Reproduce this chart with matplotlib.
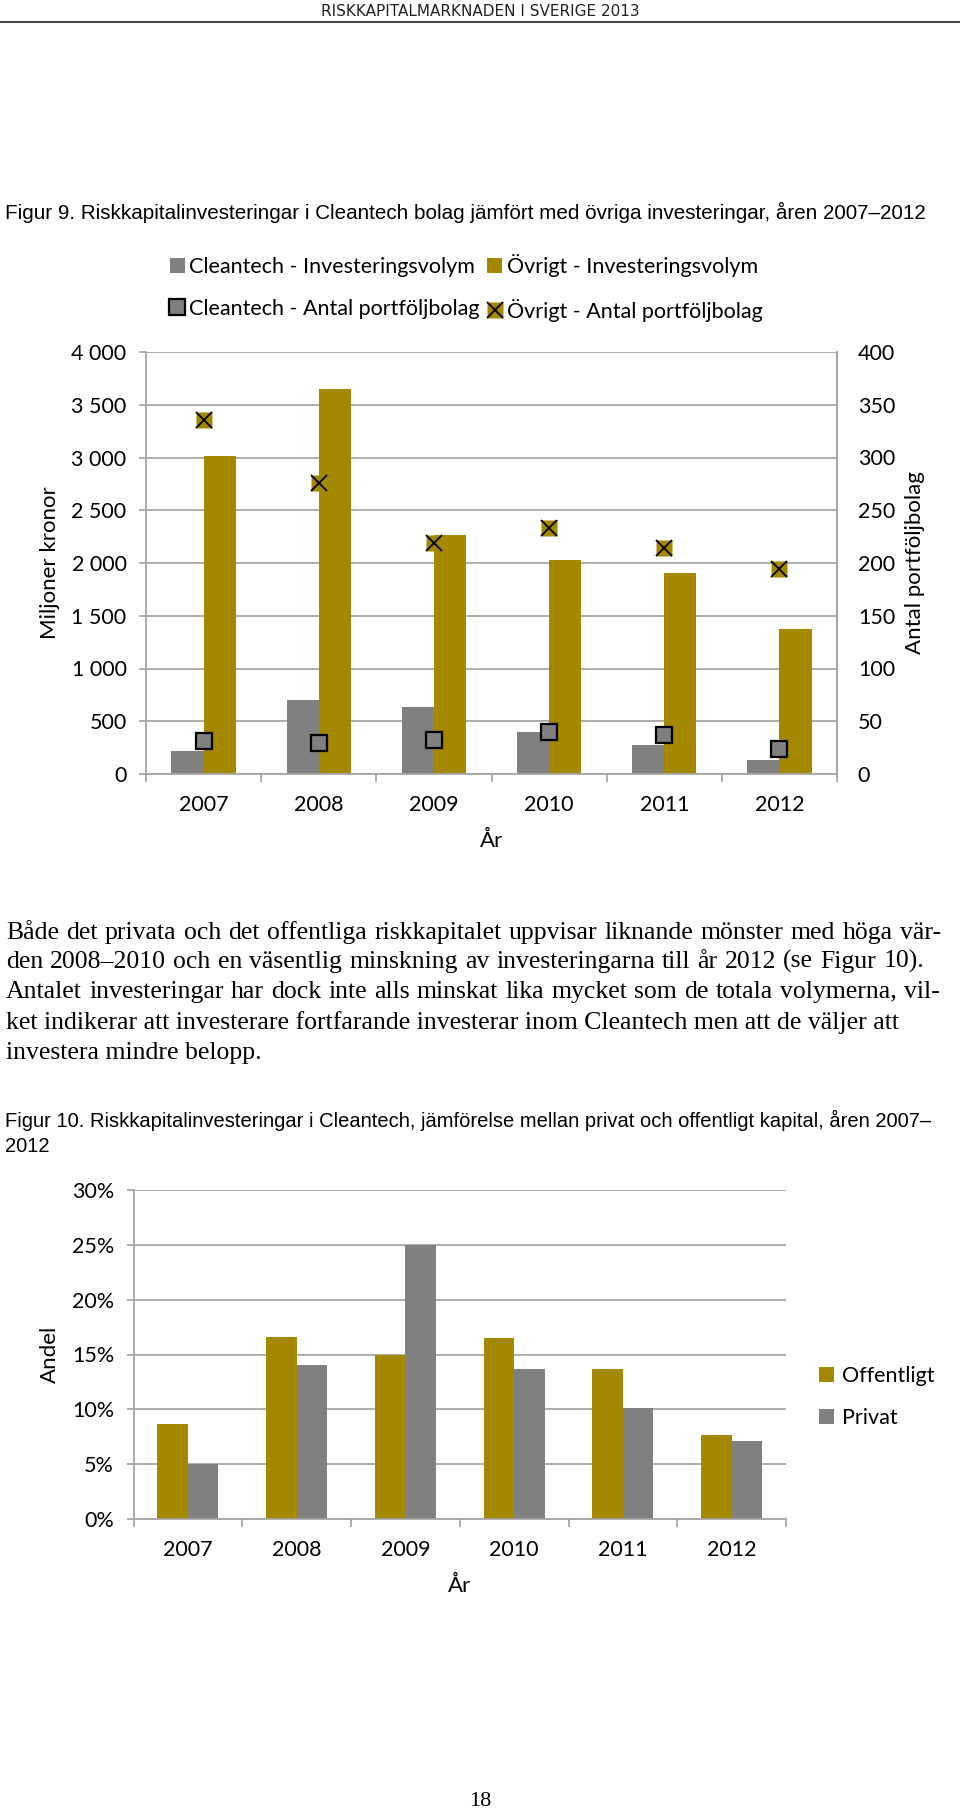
import numpy as np
import matplotlib
matplotlib.use('Agg')
import matplotlib.pyplot as plt
from matplotlib.lines import Line2D
from matplotlib.legend_handler import HandlerTuple
from matplotlib.ticker import FuncFormatter, FixedLocator

# data figur 9
years = ['2007', '2008', '2009', '2010', '2011', '2012']
clean_vol = [218, 703, 633, 396, 275, 133]          # Mkr
ovrigt_vol = [3016, 3652, 2263, 2032, 1905, 1373]   # Mkr
clean_cnt = [31, 29, 32, 40, 37, 24]                # antal bolag
ovrigt_cnt = [336, 276, 219, 233, 214, 194]

# data figur 10
offentligt = [8.7, 16.6, 15.0, 16.5, 13.7, 7.7]     # procent
privat = [5.0, 14.0, 25.0, 13.7, 10.1, 7.1]

GOLD = '#A38800'
GRAY = '#808080'
GRID = '#A6A6A6'
W, H = 960, 1811
FS = 15.5   # diagramtext

plt.rcParams['font.family'] = ['Lato', 'DejaVu Sans']

fig = plt.figure(figsize=(W/100, H/100), dpi=100)

def rect(l, t, r, b):
    return [l/W, 1-b/H, (r-l)/W, (b-t)/H]

def fx(x):
    return x/W

def fy(y):
    return 1-y/H

def style_axes(ax):
    ax.spines['top'].set_visible(False)
    for s in ['left', 'right', 'bottom']:
        ax.spines[s].set_color(GRID)
        ax.spines[s].set_linewidth(1.3)
    ax.grid(axis='y', color=GRID, lw=1.3)
    ax.set_axisbelow(True)
    ax.set_xlim(-0.5, 5.5)
    ax.set_xticks(range(6))
    ax.set_xticklabels(years, fontsize=FS)
    ax.xaxis.set_minor_locator(FixedLocator(np.arange(-0.5, 6, 1)))
    ax.tick_params(axis='x', which='major', length=0, pad=15)
    ax.tick_params(axis='x', which='minor', length=6, color=GRID, width=1.3)
    ax.tick_params(axis='y', length=5, color=GRID, width=1.3, labelsize=FS, pad=9)

# sidhuvud
fig.text(0.5, fy(11), 'RISKKAPITALMARKNADEN I SVERIGE 2013', ha='center', va='center',
         fontsize=11, family=['Liberation Sans Narrow', 'DejaVu Sans'], color='#222222')
fig.add_artist(Line2D([0, 1], [fy(22), fy(22)], color='#444444', lw=1.5))

fig.text(fx(5), fy(212), 'Figur 9. Riskkapitalinvesteringar i Cleantech bolag jämfört med övriga investeringar, åren 2007\u20132012',
         ha='left', va='center', fontsize=14.9, family=['Liberation Sans', 'DejaVu Sans'])

# ---- figur 9
x = np.arange(6)
ax1 = fig.add_axes(rect(146, 352, 837, 774))
b1 = ax1.bar(x-0.14, clean_vol, 0.28, color=GRAY, label='Cleantech - Investeringsvolym')
b2 = ax1.bar(x+0.14, ovrigt_vol, 0.28, color=GOLD, label='Övrigt - Investeringsvolym')
ax1.set_ylim(0, 4000)
ax1.set_yticks(np.arange(0, 4001, 500))
ax1.yaxis.set_major_formatter(FuncFormatter(lambda v, p: '{:,}'.format(int(v)).replace(',', ' ')))
style_axes(ax1)
ax1.set_ylabel('Miljoner kronor', fontsize=FS+0.5)
ax1.yaxis.set_label_coords(-0.124, 0.5)
ax1.set_xlabel('År', fontsize=FS+0.5)
ax1.xaxis.set_label_coords(0.5, -0.135)

ax2 = ax1.twinx()
ax2.set_ylim(0, 400)
ax2.set_yticks(np.arange(0, 401, 50))
ax2.tick_params(axis='y', length=0, labelsize=FS, pad=15)
for s in ['top', 'left', 'bottom']:
    ax2.spines[s].set_visible(False)
ax2.spines['right'].set_color(GRID)
ax2.spines['right'].set_linewidth(1.3)
m1, = ax2.plot(x, clean_cnt, 's', ms=11.5, mfc=GRAY, mec='black', mew=1.6)
m2a, = ax2.plot(x, ovrigt_cnt, 's', ms=11.5, mfc=GOLD, mec='none')
m2b, = ax2.plot(x, ovrigt_cnt, 'x', ms=11.5, mec='black', mew=1.3)
ax2.set_ylabel('Antal portföljbolag', fontsize=FS+0.5)
ax2.yaxis.set_label_coords(1.098, 0.5)

fig.legend([b1, m1, b2, (m2a, m2b)],
           ['Cleantech - Investeringsvolym', 'Cleantech - Antal portföljbolag',
            'Övrigt - Investeringsvolym', 'Övrigt - Antal portföljbolag'],
           handler_map={tuple: HandlerTuple(ndivide=1)},
           ncol=2, loc='center left', bbox_to_anchor=(fx(159), fy(288)), frameon=False,
           fontsize=FS, handlelength=0.7, handleheight=0.7, handletextpad=0.2,
           columnspacing=0.35, labelspacing=1.0, numpoints=1, borderpad=0)

# ---- brödtext (marginaljusterad)
renderer = fig.canvas.get_renderer()
para = [
    ('Både det privata och det offentliga riskkapitalet uppvisar liknande mönster med höga vär-', 941),
    ('den 2008\u20132010 och en väsentlig minskning av investeringarna till år 2012 (se Figur 10).', 924),
    ('Antalet investeringar har dock inte alls minskat lika mycket som de totala volymerna, vil-', 940),
    ('ket indikerar att investerare fortfarande investerar inom Cleantech men att de väljer att', None),
    ('investera mindre belopp.', None),
]
baselines = [939, 968, 998, 1029, 1059]
tkw = dict(fontsize=18.5, family=['Liberation Serif', 'DejaVu Serif'], va='baseline', ha='left')
for (line, right), yy in zip(para, baselines):
    if right is None:
        fig.text(fx(6), fy(yy), line, **tkw)
        continue
    words = line.split(' ')
    texts = [fig.text(0, fy(yy), w, **tkw) for w in words]
    widths = [t.get_window_extent(renderer).width for t in texts]
    gap = (right - 6 - sum(widths)) / (len(words) - 1)
    pos = 6
    for t, w in zip(texts, widths):
        t.set_x(fx(pos))
        pos += w + gap

fig.text(fx(5), fy(1120), 'Figur 10. Riskkapitalinvesteringar i Cleantech, jämförelse mellan privat och offentligt kapital, åren 2007\u2013',
         ha='left', va='center', fontsize=14.5, family=['Liberation Sans', 'DejaVu Sans'])
fig.text(fx(5), fy(1147), '2012', ha='left', va='center', fontsize=14.5, family=['Liberation Sans', 'DejaVu Sans'])

# ---- figur 10
ax3 = fig.add_axes(rect(133.5, 1190, 786, 1519))
c1 = ax3.bar(x-0.14, offentligt, 0.28, color=GOLD, label='Offentligt')
c2 = ax3.bar(x+0.14, privat, 0.28, color=GRAY, label='Privat')
ax3.set_ylim(0, 30)
ax3.set_yticks(np.arange(0, 31, 5))
ax3.yaxis.set_major_formatter(FuncFormatter(lambda v, p: '{}%'.format(int(v))))
style_axes(ax3)
ax3.spines['right'].set_visible(False)
ax3.set_ylabel('Andel', fontsize=FS+0.5)
ax3.yaxis.set_label_coords(-0.113, 0.5)
ax3.set_xlabel('År', fontsize=FS+0.5)
ax3.xaxis.set_label_coords(0.5, -0.173)
fig.legend([c1, c2], ['Offentligt', 'Privat'], loc='center left',
           bbox_to_anchor=(fx(808), fy(1397)), frameon=False, fontsize=FS,
           handlelength=0.7, handleheight=0.7, handletextpad=0.4,
           labelspacing=1.0, borderpad=0)

fig.text(0.5, fy(1802), '18', ha='center', va='center', fontsize=16,
         family=['Liberation Serif', 'DejaVu Serif'])

plt.savefig('out.png', dpi=100)
